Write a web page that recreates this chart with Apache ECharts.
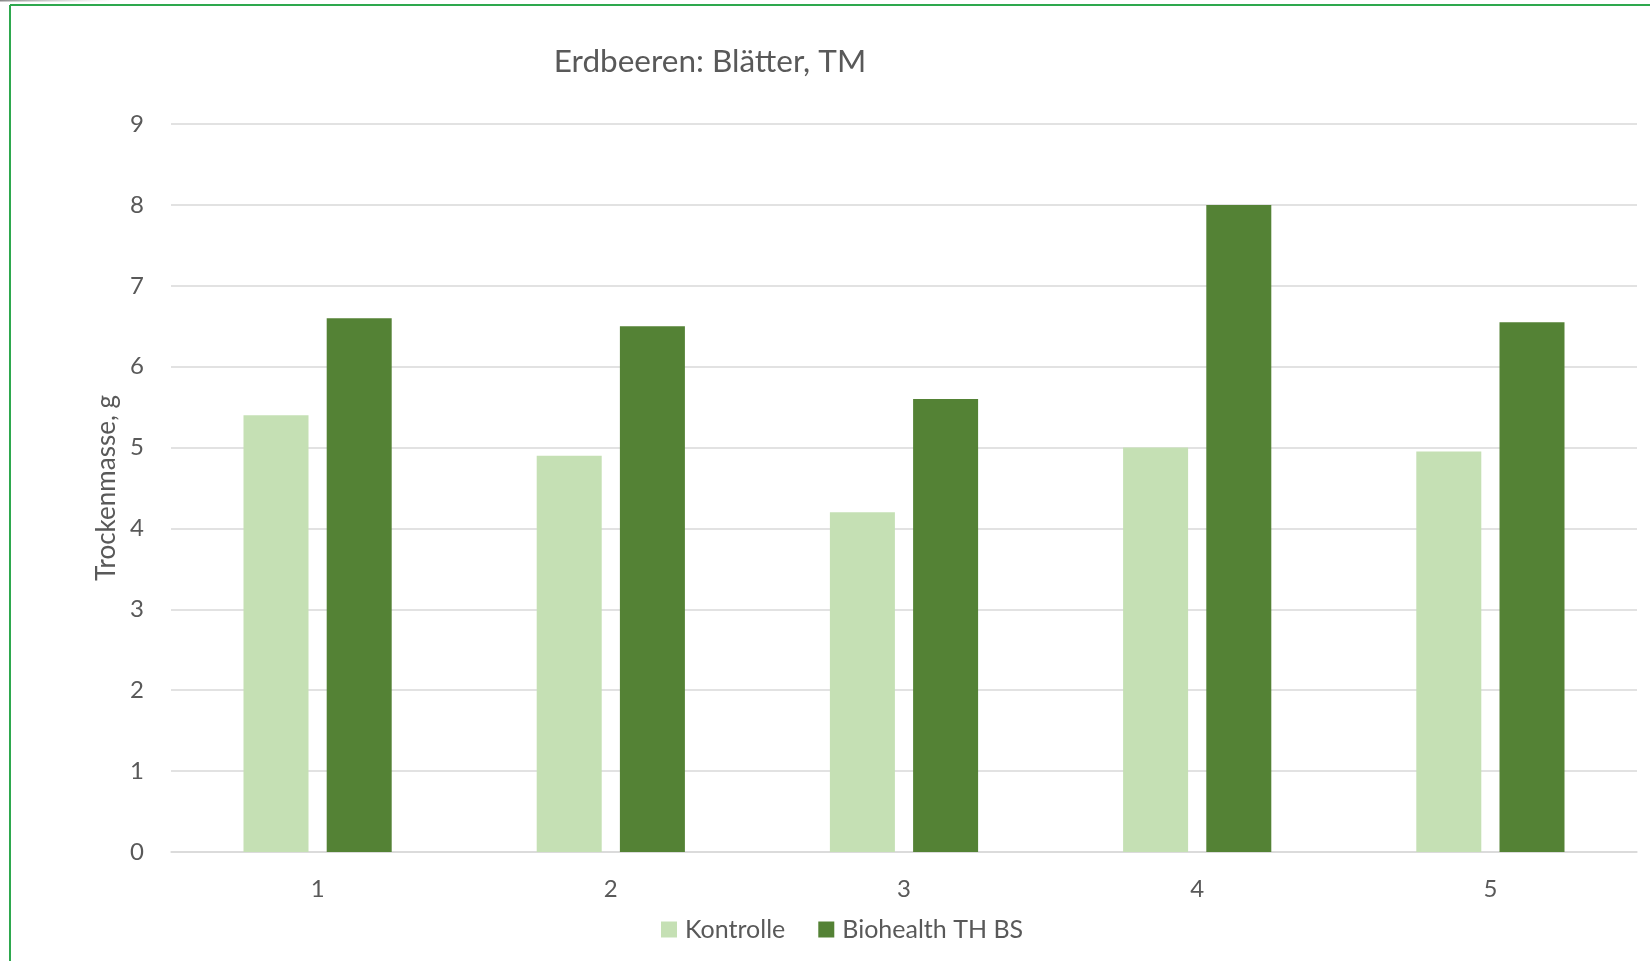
<!DOCTYPE html>
<html>
<head>
<meta charset="utf-8">
<style>
  html, body { margin: 0; padding: 0; background: #ffffff; }
  #chart { width: 1650px; height: 961px; }
</style>
<script src="https://cdn.jsdelivr.net/npm/echarts@6/dist/echarts.min.js"></script>
</head>
<body>
<div id="chart"></div>
<script>
// Dry mass of strawberry leaves per trial, control vs. treatment
const categories = ['1', '2', '3', '4', '5'];
const kontrolle = [5.4, 4.9, 4.2, 5.0, 4.95];
const biohealth = [6.6, 6.5, 5.6, 8.0, 6.55];
const seriesNames = ['Kontrolle', 'Biohealth TH BS'];
const yTicks = { min: 0, max: 9, interval: 1 };

const textColor = '#595959';
const gridColor = '#d9d9d9';
const fontFamily = 'Lato, "Open Sans", sans-serif';

const chart = echarts.init(document.getElementById('chart'), null, { renderer: 'canvas' });

chart.setOption({
  backgroundColor: '#ffffff',
  animation: false,
  textStyle: { fontFamily: fontFamily, color: textColor },
  title: {
    text: 'Erdbeeren: Blätter, TM',
    left: 705,
    textAlign: 'center',
    top: 41,
    textStyle: { fontFamily: fontFamily, fontSize: 31.5, fontWeight: 'normal', color: textColor }
  },
  legend: {
    data: seriesNames,
    left: 656,
    top: 912,
    itemWidth: 16,
    itemHeight: 16,
    itemGap: 33,
    icon: 'rect',
    textStyle: { fontFamily: fontFamily, fontSize: 25, color: textColor, padding: [0, 0, 0, 3] }
  },
  grid: { left: 171, right: 13, top: 124, bottom: 109, containLabel: false },
  xAxis: {
    type: 'category',
    data: categories,
    axisLine: { show: true, lineStyle: { color: gridColor, width: 1.5 } },
    axisTick: { show: false },
    axisLabel: { fontSize: 24, color: textColor, margin: 25, fontFamily: fontFamily }
  },
  yAxis: {
    type: 'value',
    min: yTicks.min,
    max: yTicks.max,
    interval: yTicks.interval,
    name: 'Trockenmasse, g',
    nameLocation: 'middle',
    nameGap: 50,
    nameTextStyle: { fontSize: 26, color: textColor, fontFamily: fontFamily },
    axisLine: { show: false },
    axisTick: { show: false },
    axisLabel: { fontSize: 24, color: textColor, margin: 27, fontFamily: fontFamily },
    splitLine: { lineStyle: { color: gridColor, width: 1.5 } }
  },
  series: [
    {
      name: seriesNames[0],
      type: 'bar',
      data: kontrolle,
      barWidth: 65,
      barGap: '28%',
      itemStyle: { color: '#c5e0b4' }
    },
    {
      name: seriesNames[1],
      type: 'bar',
      data: biohealth,
      barWidth: 65,
      barGap: '28%',
      itemStyle: { color: '#548235' }
    }
  ],
  graphic: [
    // green frame along the top and left edges
    { type: 'line', shape: { x1: 10, y1: 5, x2: 1650, y2: 5 }, style: { stroke: '#2ea84e', lineWidth: 2 }, silent: true },
    { type: 'line', shape: { x1: 10, y1: 5, x2: 10, y2: 961 }, style: { stroke: '#2ea84e', lineWidth: 2 }, silent: true },
    {
      type: 'rect',
      shape: { x: 0, y: 0, width: 115, height: 1.5 },
      style: {
        fill: new echarts.graphic.LinearGradient(0, 0, 1, 0, [
          { offset: 0, color: '#8a8a8a' },
          { offset: 1, color: 'rgba(200,200,200,0)' }
        ])
      },
      silent: true
    }
  ]
});
</script>
</body>
</html>
